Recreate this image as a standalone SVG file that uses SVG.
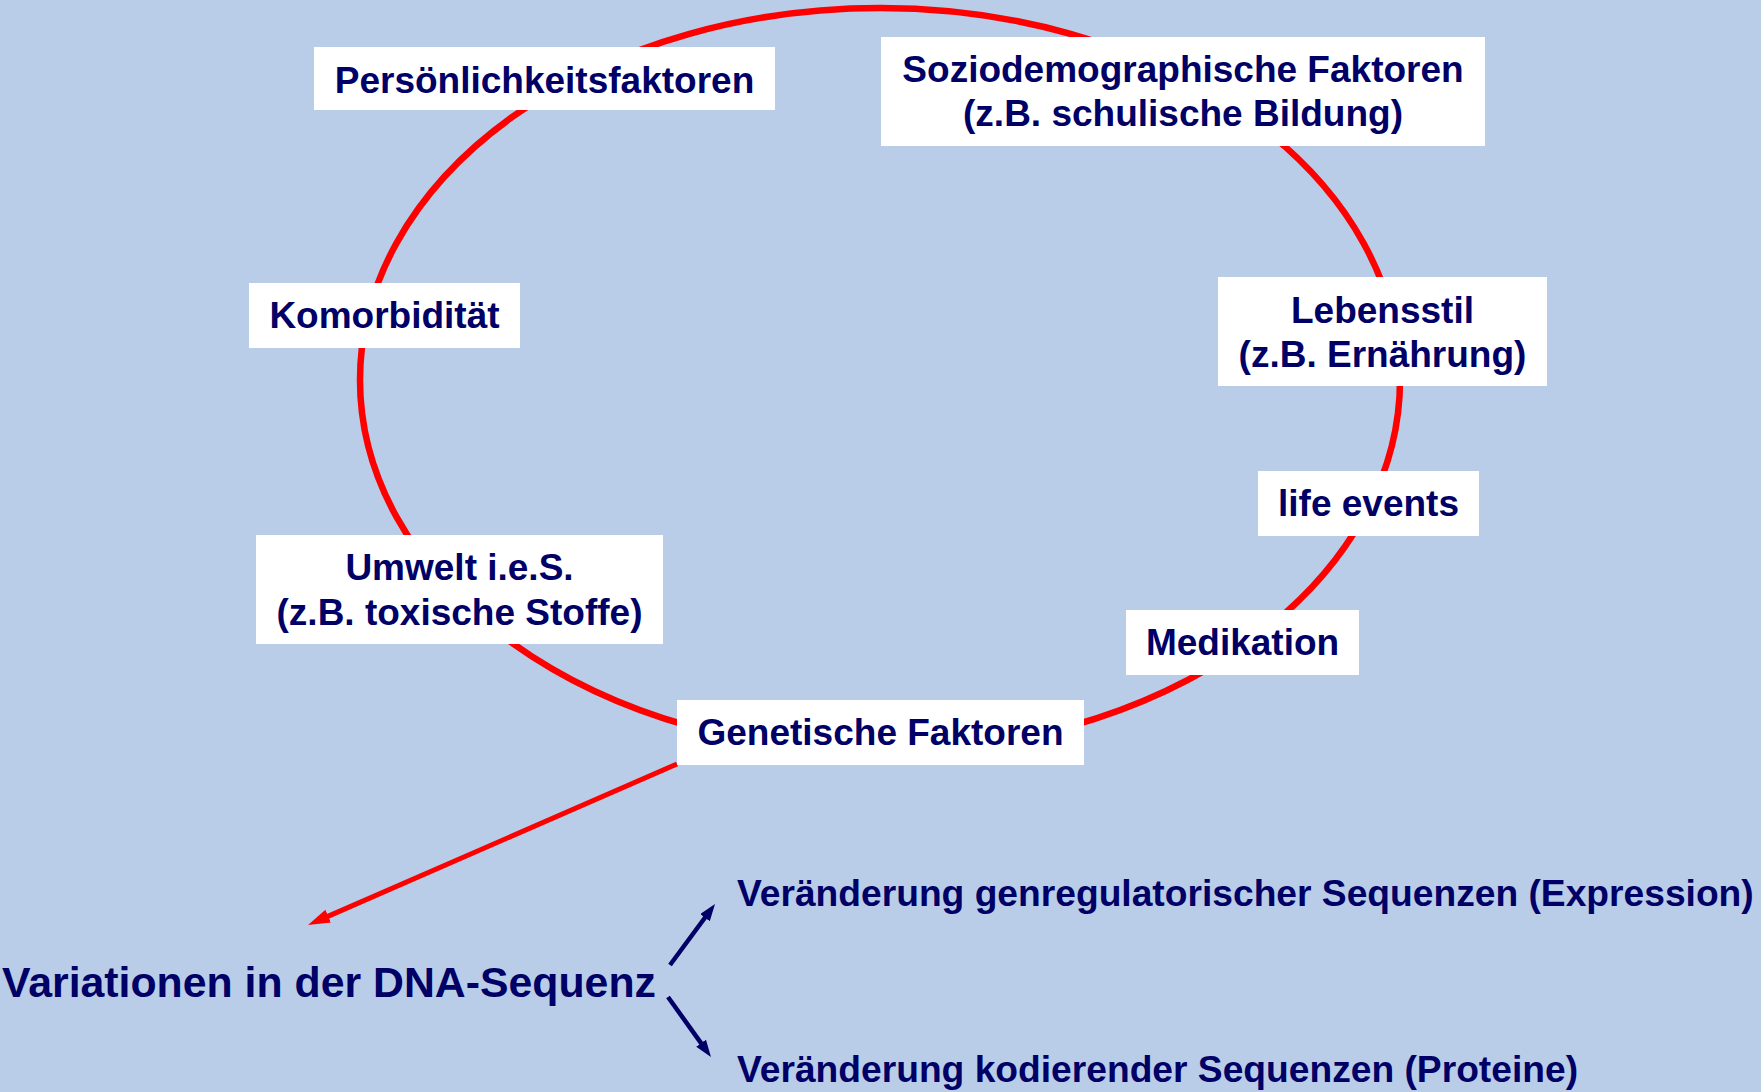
<svg xmlns="http://www.w3.org/2000/svg" width="1761" height="1092" viewBox="0 0 1761 1092">
<style>
.box{fill:#ffffff}
.t{font-family:"Liberation Sans",Arial,sans-serif;font-weight:bold;font-size:37px;fill:#000066;text-anchor:middle}
.big{font-family:"Liberation Sans",Arial,sans-serif;font-weight:bold;font-size:42.8px;fill:#000066}
.side{font-family:"Liberation Sans",Arial,sans-serif;font-weight:bold;font-size:37.2px;fill:#000066}
</style>
<defs>
<marker id="redHead" markerUnits="userSpaceOnUse" markerWidth="24" markerHeight="16" refX="6" refY="7" orient="auto">
<path d="M0,0 L22,7 L0,14 z" fill="#ff0000"/>
</marker>
<marker id="navyHead" markerUnits="userSpaceOnUse" markerWidth="19" markerHeight="14" refX="4" refY="6" orient="auto">
<path d="M0,0 L17,6 L0,12 z" fill="#000066"/>
</marker>
</defs>
<rect width="1761" height="1092" fill="#b9cde9"/>
<g id="connectors">
<ellipse cx="880" cy="380" rx="520" ry="372" fill="none" stroke="#ff0000" stroke-width="6.5"/>
<line x1="677" y1="764" x2="322.7" y2="918.6" stroke="#ff0000" stroke-width="5" marker-end="url(#redHead)"/>
<line x1="670" y1="965" x2="707.3" y2="914.5" stroke="#000066" stroke-width="4.5" marker-end="url(#navyHead)"/>
<line x1="668" y1="997" x2="703.4" y2="1046.4" stroke="#000066" stroke-width="4.5" marker-end="url(#navyHead)"/>
</g>
<g id="persoenlichkeit">
<rect class="box" x="314" y="47" width="461" height="63"/>
<text class="t" x="544.5" y="92.5">Persönlichkeitsfaktoren</text>
</g>
<g id="soziodemographie">
<rect class="box" x="881" y="37" width="604" height="109"/>
<text class="t" x="1183" y="82">Soziodemographische Faktoren</text>
<text class="t" x="1183" y="126">(z.B. schulische Bildung)</text>
</g>
<g id="komorbiditaet">
<rect class="box" x="249" y="283" width="271" height="65"/>
<text class="t" x="384.5" y="328">Komorbidität</text>
</g>
<g id="lebensstil">
<rect class="box" x="1218" y="277" width="329" height="109"/>
<text class="t" x="1382.5" y="323">Lebensstil</text>
<text class="t" x="1382.5" y="367">(z.B. Ernährung)</text>
</g>
<g id="lifeevents">
<rect class="box" x="1258" y="471" width="221" height="65"/>
<text class="t" x="1368.5" y="516">life events</text>
</g>
<g id="umwelt">
<rect class="box" x="256" y="535" width="407" height="109"/>
<text class="t" x="459.5" y="580">Umwelt i.e.S.</text>
<text class="t" x="459.5" y="625">(z.B. toxische Stoffe)</text>
</g>
<g id="medikation">
<rect class="box" x="1126" y="610" width="233" height="65"/>
<text class="t" x="1242.5" y="655">Medikation</text>
</g>
<g id="genetik">
<rect class="box" x="677" y="700" width="407" height="65"/>
<text class="t" x="880.5" y="745">Genetische Faktoren</text>
</g>
<g id="dna">
<text class="big" x="2" y="997">Variationen in der DNA-Sequenz</text>
</g>
<g id="expression">
<text class="side" x="737" y="906">Veränderung genregulatorischer Sequenzen (Expression)</text>
</g>
<g id="proteine">
<text class="side" x="737" y="1082">Veränderung kodierender Sequenzen (Proteine)</text>
</g>
</svg>
